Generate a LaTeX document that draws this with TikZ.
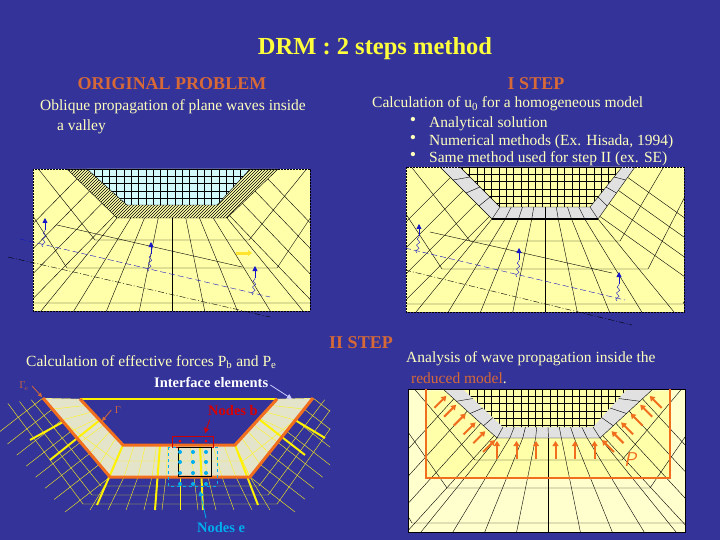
\documentclass[tikz,border=0pt]{standalone}
\usepackage{fontspec}
\setmainfont{Liberation Serif}
\usetikzlibrary{patterns,arrows.meta,decorations.pathmorphing}
\definecolor{bg}{RGB}{51,51,153}
\definecolor{ttl}{RGB}{255,255,60}
\definecolor{hdr}{RGB}{215,105,55}
\definecolor{txt}{RGB}{255,255,190}
\definecolor{paper}{RGB}{255,255,170}
\definecolor{paperb}{RGB}{255,255,205}
\definecolor{cyanl}{RGB}{210,250,250}
\definecolor{greyb}{RGB}{225,225,225}
\definecolor{org}{RGB}{240,110,30}
\definecolor{wblue}{RGB}{20,20,200}
\newcommand\frameM[9]{%
  \foreach \t in {0.2,0.45,0.7,0.95}{
    \draw ({#5+\t*(#7-#5)},{#2+\t*(#9-#2)}) -- ++({-3*(#9-#2)},{3*(#7-#5)});
    \draw ({#6+\t*(#8-#6)},{#2+\t*(#9-#2)}) -- ++({3*(#9-#2)},{3*(#6-#8)});}
  \foreach \i in {0,...,8}{
    \draw ({#7+\i*(#8-#7)/8},#9) -- ({#7+\i*(#8-#7)/8+(\i-4)*19},{#4});}
  \foreach \k in {22,50,85}{
    \draw ({#5-1.3*\k},{#2}) -- ({#7-\k},{#9+\k}) -- ({#8+\k},{#9+\k}) -- ({#6+1.3*\k},{#2});}
}
\newcommand\gridM[4]{% x0 y0 x1 y1 (step 7.3), clipped outside
  \foreach \i in {0,...,26}{\draw[black,thin] ({#1+7.3*\i},#2) -- ({#1+7.3*\i},#4);}
  \foreach \i in {0,...,6}{\draw[black,thin] (#1,{#2+7.3*\i}) -- (#3,{#2+7.3*\i});}}
\tikzset{wave/.style={wblue,thin},
 uparr/.style={wblue,-{Triangle[length=5pt,width=5pt]},line width=0.8pt},
 wig/.style={wblue,thin,decorate,decoration={snake,amplitude=1.5pt,segment length=6pt}},
 tx/.style={txt,font=\fontsize{15.5}{17}\selectfont,anchor=west,inner sep=0},
 hd/.style={hdr,font=\fontsize{18}{20}\selectfont\bfseries},
 farr/.style={org,line width=2pt,-{Triangle[length=5pt,width=6pt]}}}
\begin{document}
\begin{tikzpicture}[x=1pt,y=-1pt]
\fill[bg] (0,0) rectangle (720,540);
\useasboundingbox (0,0) rectangle (720,540);
% texts
\node[ttl,font=\fontsize{24.5}{26}\selectfont\bfseries] (title) at (375,49) {DRM : 2 steps method};
\node[hd] (op) at (172,84) {ORIGINAL PROBLEM};
\node[hd] (s1) at (536,84) {I STEP};
\node[tx] (t1) at (40,107) {Oblique propagation of plane waves inside};
\node[tx] (t1b) at (57,127) {a valley};
\node[tx] (t2) at (372,104) {Calculation of u\textsubscript{0} for a homogeneous model};
\foreach \y/\s [count=\n] in {124/Analytical solution,142/{Numerical methods (Ex. Hisada, 1994)},159/{Same method used for step II (ex. SE)}}
  {\node[tx] (b\n) at (429,\y) {\s}; \node[txt,font=\fontsize{18}{18}\selectfont] (d\n) at (413,\y-3) {•};}
\node[hd] (s2) at (361,343) {II STEP};
\node[tx] (t3) at (406,359) {Analysis of wave propagation inside the};
\node[tx,hdr] (t3b) at (411,378) {reduced model\textcolor{txt}{.}};
\node[tx] (t4) at (26,362) {Calculation of effective forces P\textsubscript{b} and P\textsubscript{e}};
\node[tx,white,font=\fontsize{14.5}{16}\selectfont\bfseries] (ie) at (154,382) {Interface elements};
% ---------- panel 1
\begin{scope}
\fill[paper] (33,169) rectangle (310,311);
\clip (33,169) rectangle (310,311);
\begin{scope}[black,thin]\frameM{33}{169}{310}{311}{67}{278}{117}{227}{218}\end{scope}
\fill[paper] (67,169) -- (117,218) -- (227,218) -- (278,169) -- cycle;
\fill[pattern=north east lines] (67,169) -- (117,218) -- (227,218) -- (278,169) -- cycle;
\fill[cyanl] (87,169) -- (127,205) -- (217,205) -- (250,169) -- cycle;
\begin{scope}
\clip (87,169) -- (127,205) -- (217,205) -- (250,169) -- cycle;
\gridM{80}{169}{260}{206}
\end{scope}
\draw[black,thin] (87,169) -- (127,205) -- (217,205) -- (250,169);
\draw[black,thin] (67,169) -- (117,218) -- (227,218) -- (278,169);
\end{scope}
\draw[black,thick,dash pattern=on 2pt off 1pt] (33,169) rectangle (310,311);
\draw[black] (57,225) -- (242,267);
\draw[wave,dash pattern=on 6pt off 3pt] (20,239) -- (270,297);
\draw[black,dash pattern=on 6pt off 2pt on 1pt off 2pt] (8,257) -- (270,317);
\foreach \x/\y in {45/222,151/246,255/270}{
 \draw[wig] (\x-2,\y+25) -- (\x,\y+8); \draw[uparr] (\x,\y+8) -- (\x,\y-4);}
\draw[ttl!80!orange,line width=3pt,-{Triangle[length=4pt,width=6pt]}] (236,253) -- (252,253);
% ---------- panel 2
\begin{scope}
\fill[paper] (406,167) rectangle (684,312);
\clip (406,167) rectangle (684,312);
\begin{scope}[black,thin]\frameM{406}{167}{684}{312}{440}{635}{492}{598}{219}\end{scope}
\fill[greyb] (440,167) -- (492,219) -- (598,219) -- (635,167) -- cycle;
\fill[paper] (460,167) -- (500,207) -- (590,207) -- (622,167) -- cycle;
\begin{scope}
\clip (460,167) -- (500,207) -- (590,207) -- (622,167) -- cycle;
\gridM{455}{167}{630}{208}
\end{scope}
\foreach \i in {0,...,8}{\draw[black,thin] ({492+\i*106/8},219) -- ({500+\i*90/8},207);}
\foreach \t in {0.25,0.5,0.75}{\draw[black,thin] ({440+\t*52},{167+\t*52}) -- ({460+\t*40},{167+\t*40});
 \draw[black,thin] ({635-\t*37},{167+\t*52}) -- ({622-\t*32},{167+\t*40});}
\draw[black,thin] (460,167) -- (500,207) -- (590,207) -- (622,167);
\draw[black,thin] (440,167) -- (492,219) -- (598,219) -- (635,167);
\draw[black,line width=1.5pt] (492,219) -- (598,219);
\end{scope}
\draw[black,thick,dash pattern=on 2pt off 1pt] (406,167) rectangle (684,312);
\draw[black] (430,232) -- (612,273);
\draw[wave,dash pattern=on 6pt off 3pt] (405,248) -- (625,300);
\draw[black,dash pattern=on 6pt off 2pt on 1pt off 2pt] (405,270) -- (632,325);
\foreach \x/\y in {419/228,519/252,619/276}{
 \draw[wig] (\x-2,\y+25) -- (\x,\y+8); \draw[uparr] (\x,\y+8) -- (\x,\y-4);}
% ---------- panel 3
\begin{scope}
\fill[paperb] (408,389) rectangle (685,532);
\clip (408,389) rectangle (685,532);
\fill[paper] (426,391) rectangle (670,478);
\begin{scope}[black,thin]\frameM{408}{389}{685}{532}{443}{653}{497}{600}{438}\end{scope}
\fill[greyb] (443,389) -- (497,438) -- (600,438) -- (653,389) -- cycle;
\fill[paper] (463,389) -- (503,427) -- (593,427) -- (627,389) -- cycle;
\begin{scope}
\clip (463,389) -- (503,427) -- (593,427) -- (627,389) -- cycle;
\gridM{455}{389}{635}{428}
\end{scope}
\foreach \i in {0,...,8}{\draw[black,thin] ({497+\i*103/8},438) -- ({503+\i*90/8},427);}
\foreach \t in {0.25,0.5,0.75}{\draw[black,thin] ({443+\t*54},{389+\t*49}) -- ({463+\t*40},{389+\t*38});
 \draw[black,thin] ({653-\t*53},{389+\t*49}) -- ({627-\t*34},{389+\t*38});}
\draw[black,thin] (443,389) -- (497,438) -- (600,438) -- (653,389);
\end{scope}
\draw[black,thick] (408,389) rectangle (685,532);
\draw[org,line width=2pt] (426,389) -- (426,478) -- (670,478) -- (670,389);
\foreach \i in {0,...,5}{\draw[farr] ({497+\i*19.5},459) -- ++(0,-18);}
\foreach \t in {0.1,0.28,0.46,0.64,0.82,1.0}{
 \draw[farr] ({443+\t*54-14},{389+\t*49+14}) -- ++(12,-12);
 \draw[farr] ({653-\t*53+14},{389+\t*49+14}) -- ++(-12,-12);}
\node[org,font=\fontsize{20}{20}\selectfont\sffamily\itshape] (P) at (630,460) {P};
% ---------- panel 4
\begin{scope}[yellow!90!white,thin]
\begin{scope}
\clip (0,385) rectangle (330,515);
\foreach \t in {0,0.14,0.28,0.42,0.56,0.7,0.84,1.0}{
 \draw ({43+\t*67},{398+\t*79}) -- ++({-45},{35});
 \draw ({313-\t*63},{398+\t*79}) -- ++({45},{35});}
\foreach \i in {0,...,10}{\draw ({110+\i*14},477) -- ({110+\i*14+(\i-5)*4},510);}
\foreach \k in {9,18,27}{
 \draw ({43-1.3*\k},{398+0.2*\k}) -- ({110-\k},{477+\k}) -- ({250+\k},{477+\k}) -- ({313+1.3*\k},{398+0.2*\k});}
\end{scope}
\end{scope}
\fill[greyb!90!yellow] (43,398) -- (110,477) -- (250,477) -- (313,398) -- (277,399) -- (235,445) -- (123,445) -- (80,399) -- cycle;
\begin{scope}
\clip (43,398) -- (110,477) -- (250,477) -- (313,398) -- (277,399) -- (235,445) -- (123,445) -- (80,399) -- cycle;
\foreach \t in {0,0.14,0.28,0.42,0.56,0.7,0.84,1.0}{
 \draw[yellow!90!white] ({80+\t*43},{399+\t*46}) -- ({43+\t*67},{398+\t*79});
 \draw[yellow!90!white] ({277-\t*42},{399+\t*46}) -- ({313-\t*63},{398+\t*79});}
\foreach \i in {0,...,10}{\draw[yellow!90!white] ({123+\i*11.2},445) -- ({110+\i*14},477);}
\draw[yellow!90!white] (61,420) -- (116,461) -- (243,461) -- (295,420);
\end{scope}
\draw[yellow,line width=2pt] (80,399) -- (277,399);
\draw[yellow,line width=2pt] (123,445) -- (97,505) (235,445) -- (258,505) (160,445) -- (155,510) (200,445) -- (203,510);
\draw[yellow,line width=2pt] (63,422) -- (30,440) (295,420) -- (325,438) (100,420) -- (50,460) (260,420) -- (305,455);
\draw[org,line width=3pt] (80,399) -- (123,445) -- (235,445) -- (277,399);
\draw[org,line width=3pt] (43,398) -- (110,477) -- (250,477) -- (313,398);
\draw[red!80!black,thick] (172,436) rectangle (213,447);
\draw[cyan,thick,dashed] (168,447) rectangle (217,486);
\draw[black] (178,447) rectangle (211,476);
\foreach \x in {180,193,206}{\foreach \y in {441}{\fill[red] (\x,\y) circle (1.5);}
 \foreach \y in {452,462,473,484}{\fill[cyan] (\x,\y) circle (2);}}
\node[red!85!black,font=\fontsize{14.5}{16}\selectfont\bfseries] (nb) at (233,411) {Nodes b};
\node[cyan,font=\fontsize{14.5}{16}\selectfont\bfseries] (ne) at (221,528) {Nodes e};
\node[hdr,font=\fontsize{10}{10}\selectfont] (ge) at (24,386) {$\Gamma_{\!e}$};
\node[hdr,font=\fontsize{10}{10}\selectfont] (g) at (118,410) {$\Gamma$};
\draw[red!85!black,thick,-{Triangle[length=5pt,width=5pt]}] (nb.south west) ++(5,0) -- (205,433);
\draw[cyan,thick,-{Triangle[length=5pt,width=5pt]}] (ne.north) ++(-15,-1) -- (200,491);
\draw[white!80!blue,thick,-{Triangle[length=5pt,width=5pt]}] (ie.east) ++(2,3) -- (292,399);
\draw[hdr,thick,-{Triangle[length=4pt,width=4pt]}] (ge.east) -- (42,397);
\draw[hdr,thick,-{Triangle[length=4pt,width=4pt]}] (g.west) -- (102,421);
\end{tikzpicture}
\end{document}
